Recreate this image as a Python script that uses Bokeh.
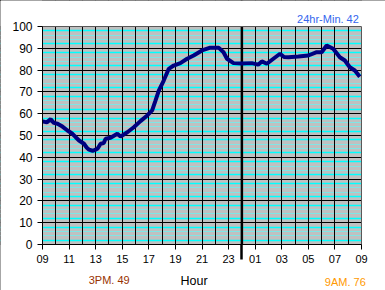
from bokeh.plotting import figure
from bokeh.models import (FixedTicker, Grid, Label, Span, Range1d, BoxAnnotation)
from bokeh.embed import file_html
from bokeh.resources import INLINE

# hours since 09:00 and temperature readings
hours = [0, 0.32, 0.62, 0.85, 1.13, 1.5, 1.88, 2.25, 2.5, 2.75, 3.12, 3.32, 3.5, 3.77,
         4.0, 4.15, 4.37, 4.6, 4.75, 5.12, 5.63, 5.87, 6.38, 6.87, 7.37, 7.88, 8.25,
         8.5, 8.75, 9.12, 9.5, 9.87, 10.37, 10.88, 11.37, 12.0, 12.62, 13.25, 13.62,
         13.88, 14.37, 15.0, 15.75, 16.22, 16.5, 16.88, 17.37, 17.87, 18.17, 18.5,
         19.25, 20.0, 20.63, 21.0, 21.38, 21.87, 22.37, 22.75, 23.12, 23.5, 23.87]
temps = [56.5, 56, 57.5, 55.8, 55.4, 54.1, 52.3, 50.8, 49.2, 47.7, 46.2, 44.5, 43.5, 43,
         43.5, 44, 46.2, 46.5, 48.5, 49, 50.8, 49.5, 51.5, 53.8, 56.6, 59.2, 61.5,
         66, 70.6, 75.2, 80.6, 82.1, 83.2, 85.2, 86.7, 89, 90.3, 90.3, 88.2,
         85.2, 83.2, 83, 83.2, 82.5, 84, 82.9, 85.2, 87.5, 86, 85.9,
         86.2, 86.7, 88.2, 88.2, 91.3, 89.8, 85.9, 84.4, 81.3, 79.8, 77]

x_ticks = list(range(0, 25, 2))
x_tick_labels = ["09", "11", "13", "15", "17", "19", "21", "23", "01", "03", "05", "07", "09"]
y_ticks = list(range(0, 101, 10))
midnight = 15
x_min, x_max = 0, 24
y_min, y_max = 0, 100

title_right = "24hr-Min. 42"
left_note = "3PM. 49"
x_title = "Hour"
right_note = "9AM. 76"

# The frame covers the whole canvas; the plotting region (0..24 h, 0..100) sits at
# pixels x 42..361, y 26..244, so that the texts around it are not clipped.
px_x = 319 / 24.0
px_y = 218 / 100.0
xr = Range1d(-42 / px_x, 24 + 24 / px_x)
yr = Range1d(-46 / px_y, 100 + 26 / px_y)

p = figure(width=385, height=290, output_backend="svg", toolbar_location=None,
           x_range=xr, y_range=yr, min_border=0)
p.background_fill_color = "#C0C0C0"
p.border_fill_color = "white"
p.outline_line_color = None
p.styles = {"outline": "1px solid black", "outline-offset": "-1px"}

p.xgrid.grid_line_color = None
p.ygrid.grid_line_color = None

faint = Grid(dimension=1, ticker=FixedTicker(ticks=[v + d for v in range(0, 100, 10) for d in (4, 6)]),
             grid_line_color="#7FE6E6", grid_line_width=1)
bright = Grid(dimension=1, ticker=FixedTicker(ticks=[v + d for v in range(0, 100, 10) for d in (2, 8)]),
              grid_line_color="#00FFFF", grid_line_width=1.5)
hmaj = Grid(dimension=1, ticker=FixedTicker(ticks=y_ticks), grid_line_color="black", grid_line_width=1)
vmaj = Grid(dimension=0, ticker=FixedTicker(ticks=list(range(0, 25))), grid_line_color="black", grid_line_width=1)
for g in (faint, bright, hmaj, vmaj):
    p.add_layout(g)

p.add_layout(Span(location=midnight, dimension="height", line_color="black", line_width=2.5,
                  level="underlay"))

# white surroundings outside the plotting region
for kw in (dict(top=y_min), dict(bottom=y_max), dict(right=x_min), dict(left=x_max)):
    p.add_layout(BoxAnnotation(fill_color="white", fill_alpha=1, line_color=None,
                               level="underlay", **kw))
# border of the plotting region
p.add_layout(BoxAnnotation(left=x_min, right=x_max, bottom=y_min, top=y_max,
                           fill_color=None, line_color="black", line_width=1, level="underlay"))

p.line(hours, temps, line_color="#000080", line_width=4)

xa = p.xaxis[0]
xa.fixed_location = 0
xa.bounds = (x_min, x_max)
xa.ticker = FixedTicker(ticks=x_ticks, minor_ticks=[midnight])
xa.major_label_overrides = {t: l for t, l in zip(x_ticks, x_tick_labels)}
xa.major_tick_in = 0
xa.major_tick_out = 5
xa.minor_tick_in = 0
xa.minor_tick_out = 15
xa.minor_tick_line_width = 2.5
xa.minor_tick_line_color = "black"
xa.axis_line_color = "black"
xa.major_label_text_font = "Liberation Sans"
xa.major_label_text_font_size = "11px"
xa.major_label_text_color = "black"
xa.major_label_standoff = -5

ya = p.yaxis[0]
ya.fixed_location = 0
ya.bounds = (y_min, y_max)
ya.ticker = FixedTicker(ticks=y_ticks, minor_ticks=[])
ya.major_tick_in = 0
ya.major_tick_out = 5
ya.axis_line_color = "black"
ya.major_label_text_font = "Liberation Sans"
ya.major_label_text_font_size = "12px"
ya.major_label_text_color = "black"
ya.major_label_standoff = 5

def lab(x, y, t, color, size="11px", align="left"):
    p.add_layout(Label(x=x, y=y, text=t, text_color=color, text_font="Liberation Sans",
                       text_font_size=size, text_align=align, text_baseline="alphabetic"))

lab(23.8, 103.5, title_right, "#3366EE", align="right")
lab(3.48, -16.5, left_note, "#993300")
lab(10.38, -16.8, x_title, "black", size="12.5px")
lab(21.24, -17.3, right_note, "#FF9900")

open("out.html", "w").write(file_html(p, INLINE))
